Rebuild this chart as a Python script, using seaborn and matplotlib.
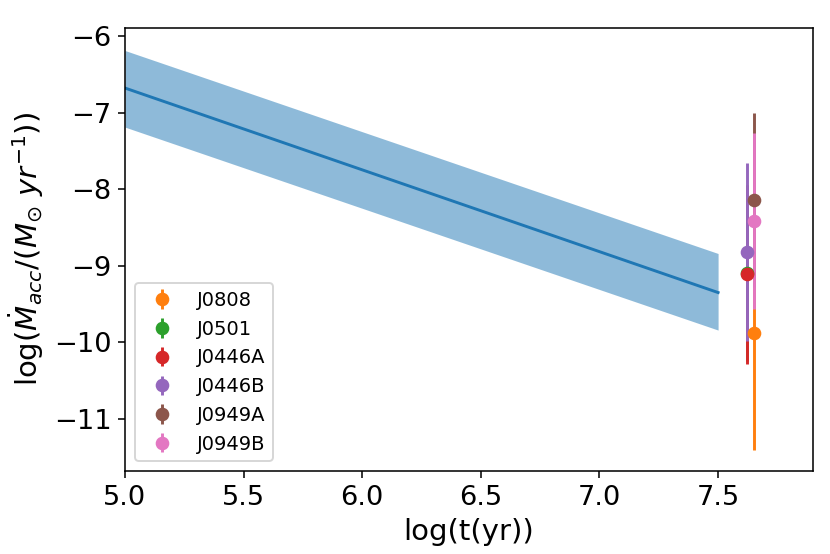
import numpy as np
import pandas as pd
import matplotlib
matplotlib.use("Agg")
import matplotlib.pyplot as plt
import seaborn as sns

# Model relation (log t vs log Mdot) with +/- band
t_model = [5.0, 7.5]
mdot_model = [-6.68, -9.35]
mdot_upper = [-6.19, -8.84]
mdot_lower = [-7.19, -9.84]

# Observed objects
names = ["J0808", "J0501", "J0446A", "J0446B", "J0949A", "J0949B"]
log_age = [7.65, 7.62, 7.62, 7.62, 7.65, 7.65]
log_mdot = [-9.88, -9.09, -9.11, -8.82, -8.14, -8.42]
log_mdot_err = [1.53, 1.15, 1.17, 1.16, 1.14, 1.15]

DPI = 140
fig = plt.figure(figsize=(830 / DPI, 554 / DPI), dpi=DPI)
ax = fig.add_axes([0.1506, 0.1498, 0.8289, 0.8005])

model_df = pd.DataFrame({"t": t_model, "m": mdot_model})
sns.lineplot(data=model_df, x="t", y="m", color="C0", lw=1.5, ax=ax)
ax.fill_between(t_model, mdot_lower, mdot_upper, color="C0", alpha=0.5, lw=0)

for i, name in enumerate(names):
    ax.errorbar(log_age[i], log_mdot[i], yerr=log_mdot_err[i], fmt="o",
                color=f"C{i + 1}", label=name)

ax.set_xlim(5.0, 7.9)
ax.set_ylim(-11.68, -5.89)
ax.set_xticks([5.0, 5.5, 6.0, 6.5, 7.0, 7.5])
ax.set_yticks([-11, -10, -9, -8, -7, -6])
ax.tick_params(labelsize=14)
ax.set_xlabel("log(t(yr))", fontsize=15)
ax.set_ylabel(r"$\log(\dot{M}_{acc}/(M_{\odot}\ yr^{-1}))$", fontsize=15)
ax.legend(loc="lower left", fontsize=10)

fig.savefig("out.png", dpi=DPI)
